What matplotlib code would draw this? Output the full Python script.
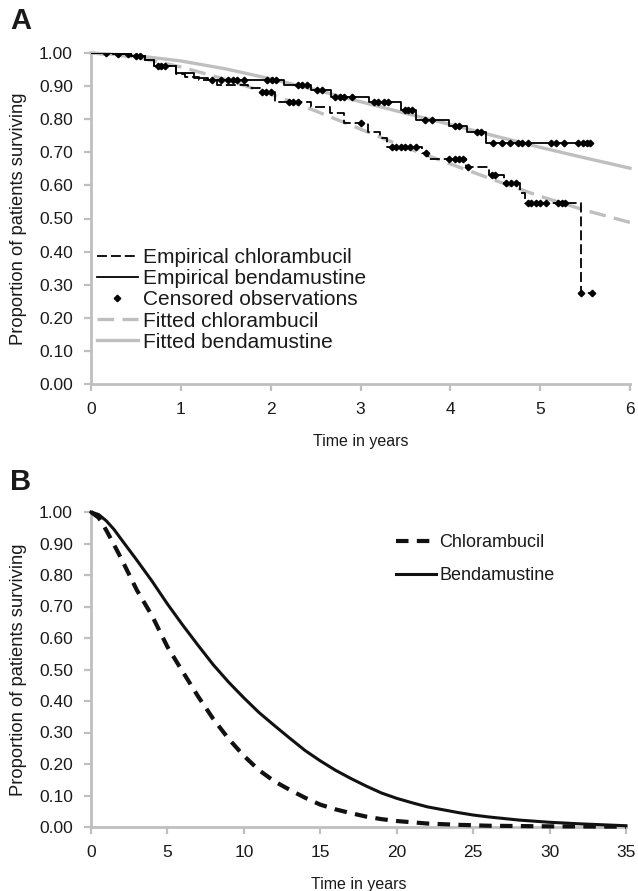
import numpy as np
import matplotlib
matplotlib.use('Agg')
import matplotlib.pyplot as plt
from matplotlib.lines import Line2D

plt.rcParams['font.family'] = ['Liberation Sans', 'DejaVu Sans']

# ---------------- Panel A data ----------------
# Empirical (Kaplan-Meier) step functions
chl_step_t = [0, 0.25, 0.45, 0.60, 0.70, 0.95, 1.05, 1.20, 1.40, 1.75, 1.88, 2.05, 2.45, 2.66,
              2.82, 3.08, 3.22, 3.30, 3.68, 3.75, 4.17, 4.43, 4.60, 4.78, 4.83, 5.45, 5.58]
chl_step_s = [1.00, 0.996, 0.990, 0.980, 0.960, 0.937, 0.928, 0.918, 0.903, 0.895, 0.883, 0.853, 0.838, 0.818,
              0.790, 0.762, 0.743, 0.716, 0.699, 0.679, 0.657, 0.631, 0.606, 0.577, 0.546, 0.274, 0.274]
ben_step_t = [0, 0.25, 0.45, 0.60, 0.70, 0.95, 1.15, 1.30, 2.15, 2.45, 2.67, 3.10, 3.45, 3.62,
              3.98, 4.18, 4.40, 5.55]
ben_step_s = [1.00, 0.996, 0.990, 0.980, 0.962, 0.940, 0.925, 0.918, 0.903, 0.887, 0.868, 0.851, 0.828, 0.797,
              0.780, 0.760, 0.728, 0.728]
# Censoring times
ben_cens = [0.17, 0.30, 0.41, 0.50, 0.55, 0.78, 1.35, 1.45, 1.52, 1.58, 1.63, 1.70, 1.96, 2.01, 2.06,
            2.30, 2.35, 2.40, 2.52, 2.57, 2.72, 2.77, 2.82, 2.90, 3.15, 3.20, 3.26, 3.31, 3.50, 3.53,
            3.57, 3.72, 3.80, 4.05, 4.10, 4.30, 4.34, 4.48, 4.57, 4.66, 4.75, 4.80, 4.86, 5.12, 5.18,
            5.26, 5.42, 5.48, 5.52, 5.55]
chl_cens = [0.75, 0.82, 1.90, 1.95, 2.00, 2.20, 2.25, 2.30, 3.00, 3.35, 3.40, 3.45, 3.50, 3.55, 3.62,
            3.73, 3.98, 4.05, 4.10, 4.14, 4.20, 4.46, 4.50, 4.62, 4.68, 4.73, 4.86, 4.90, 4.95, 5.00,
            5.06, 5.20, 5.24, 5.28, 5.45, 5.58]
# Fitted curves
fit_t = [0, 0.5, 1.0, 1.5, 2.0, 2.5, 3.0, 3.5, 4.0, 4.5, 5.0, 5.5, 6.0]
fit_chl = [1.000, 0.988, 0.958, 0.920, 0.876, 0.825, 0.770, 0.715, 0.665, 0.615, 0.567, 0.525, 0.488]
fit_ben = [1.000, 0.992, 0.976, 0.952, 0.922, 0.889, 0.853, 0.818, 0.784, 0.749, 0.715, 0.683, 0.652]

# ---------------- Panel B data ----------------
b_t_chl = [0, 0.5, 1, 1.5, 2, 3, 4, 5, 6, 7, 8, 9, 10, 11, 12, 13, 14, 15, 16, 17, 18, 19, 20, 22, 24,
           26, 28, 30, 35]
b_chl = [1.000, 0.982, 0.942, 0.897, 0.850, 0.752, 0.670, 0.572, 0.493, 0.415, 0.343, 0.280, 0.226,
         0.180, 0.145, 0.118, 0.093, 0.071, 0.056, 0.044, 0.033, 0.025, 0.019, 0.011, 0.007, 0.004,
         0.003, 0.002, 0.001]
b_t_ben = [0, 0.5, 1, 1.5, 2, 3, 4, 5, 6, 7, 8, 9, 10, 11, 12, 13, 14, 15, 16, 17, 18, 19, 20, 21, 22,
           24, 25, 26, 28, 30, 32, 35]
b_ben = [1.000, 0.992, 0.972, 0.945, 0.912, 0.847, 0.780, 0.708, 0.641, 0.577, 0.515, 0.460, 0.410,
         0.363, 0.322, 0.282, 0.243, 0.210, 0.180, 0.154, 0.130, 0.108, 0.091, 0.077, 0.064, 0.046,
         0.038, 0.032, 0.022, 0.015, 0.010, 0.004]

A_xticks = [0, 1, 2, 3, 4, 5, 6]
B_xticks = [0, 5, 10, 15, 20, 25, 30, 35]
yticks = [0.0, 0.1, 0.2, 0.3, 0.4, 0.5, 0.6, 0.7, 0.8, 0.9, 1.0]

AXC = '#bfbfbf'
TXT = '#1a1a1a'
W, H = 638, 891

fig = plt.figure(figsize=(W / 100, H / 100), dpi=100)
axA = fig.add_axes([91 / W, 1 - 384 / H, (630 - 91) / W, (384 - 53) / H])
axB = fig.add_axes([91 / W, 1 - 827 / H, (626 - 91) / W, (827 - 512) / H])


def style(ax, xmax, xticks):
    ax.set_xlim(0, xmax)
    ax.set_ylim(0, 1)
    for s in ['top', 'right']:
        ax.spines[s].set_visible(False)
    for s in ['left', 'bottom']:
        ax.spines[s].set_color(AXC)
        ax.spines[s].set_linewidth(2.0)
    ax.set_xticks(xticks)
    ax.set_yticks(yticks)
    ax.set_yticklabels([f'{v:.2f}' for v in yticks])
    ax.set_xticklabels([str(v) for v in xticks])
    ax.tick_params(axis='both', color=AXC, width=1.6, length=5, labelsize=12.5,
                   labelcolor=TXT, direction='out')
    ax.tick_params(axis='y', pad=8)
    ax.tick_params(axis='x', pad=8)
    ax.set_xlabel('Time in years', fontsize=11.5, color=TXT, labelpad=12)
    ax.set_ylabel('Proportion of patients surviving', fontsize=13.2, color=TXT, labelpad=9)
    ax.patch.set_visible(False)


style(axA, 6, A_xticks)
style(axB, 35, B_xticks)

# Panel A
axA.plot(fit_t, fit_chl, color=AXC, lw=2.4, dashes=(5, 2.5), zorder=2, clip_on=False)
axA.plot(fit_t, fit_ben, color=AXC, lw=2.4, zorder=2, clip_on=False)
axA.step(chl_step_t, chl_step_s, where='post', color='black', lw=1.3, dashes=(5.5, 2.2), zorder=3)
axA.step(ben_step_t, ben_step_s, where='post', color='black', lw=1.3, zorder=3)


def km_at(tt, st, t):
    idx = np.searchsorted(np.asarray(tt), np.asarray(t), side='right') - 1
    return np.asarray(st)[idx]


axA.plot(ben_cens, km_at(ben_step_t, ben_step_s, ben_cens), ls='none', marker='D', ms=3.3,
         color='black', zorder=4)
axA.plot(chl_cens, km_at(chl_step_t, chl_step_s, chl_cens), ls='none', marker='D', ms=3.3,
         color='black', zorder=4)

hA = [Line2D([], [], color='black', lw=1.3, dashes=(5.5, 2.2)),
      Line2D([], [], color='black', lw=1.3),
      Line2D([], [], color='black', ls='none', marker='D', ms=3.3),
      Line2D([], [], color=AXC, lw=2.4, dashes=(5, 2.5)),
      Line2D([], [], color=AXC, lw=2.4)]
lA = ['Empirical chlorambucil', 'Empirical bendamustine', 'Censored observations',
      'Fitted chlorambucil', 'Fitted bendamustine']
axA.legend(hA, lA, loc='upper left', bbox_to_anchor=(0.011, 0.41), frameon=False,
           fontsize=15, handlelength=1.95, handletextpad=0.28, labelspacing=0.1,
           borderpad=0, borderaxespad=0, labelcolor=TXT)

# Panel B
axB.plot(b_t_chl, b_chl, color='#111111', lw=3.0, dashes=(3, 2), zorder=3, clip_on=False)
axB.plot(b_t_ben, b_ben, color='#111111', lw=2.2, zorder=3, clip_on=False)
hB = [Line2D([], [], color='#111111', lw=3.0, dashes=(3, 2)),
      Line2D([], [], color='#111111', lw=2.2)]
axB.legend(hB, ['Chlorambucil', 'Bendamustine'], loc='upper left', bbox_to_anchor=(0.57, 0.93),
           frameon=False, fontsize=13, handlelength=2.2, handletextpad=0.2, labelspacing=0.9,
           borderpad=0, borderaxespad=0, labelcolor=TXT)

fig.text(10 / W, 1 - 21 / H, 'A', fontsize=21, fontweight='bold', color=TXT, va='center', ha='left')
fig.text(10 / W, 1 - 482 / H, 'B', fontsize=21, fontweight='bold', color=TXT, va='center', ha='left')

fig.savefig('out.png', dpi=100)
